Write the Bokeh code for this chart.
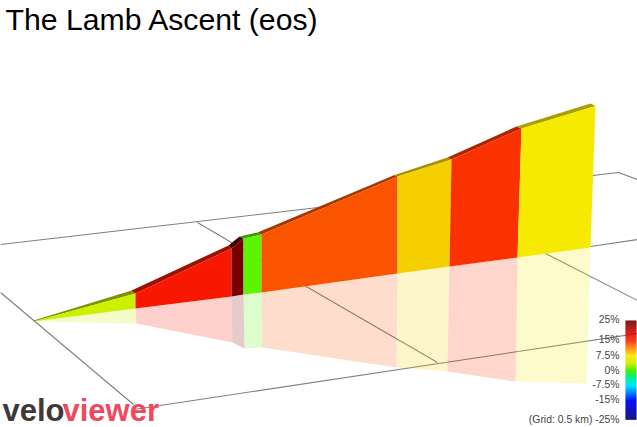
from bokeh.plotting import figure
from bokeh.models import Range1d
from bokeh.core.properties import value
from bokeh.embed import file_html
from bokeh.resources import INLINE
import numpy as np

TITLE = "The Lamb Ascent (eos)"

# Section boundaries (screen space of the 3D view)
edge_top_x = [33, 135, 231, 243, 261, 397, 451, 521, 595]
edge_top_y = [321, 293, 248, 238, 234, 176, 159, 128, 105.5]
edge_base_x = [33, 135, 231, 243, 261, 397, 449, 517, 590]
edge_base_y = [321, 308, 296, 294, 292, 273, 266, 257, 247]
edge_refl_x = [33, 136, 232, 244, 262, 396, 447, 515, 586]
edge_refl_y = [321, 323, 342, 348, 347, 367, 371, 381, 383]
ridge_x = [33, 131, 228, 239, 257, 394, 447, 516, 590]
ridge_y = [320, 290, 245, 236, 232, 174.5, 157, 126, 103]

face_colors = ["#cdf000", "#f81800", "#7a0000", "#5cf400", "#fa5400", "#f6cf00", "#fa3200", "#f6ea00"]
ridge_colors = ["#7f9500", "#a01000", "#400000", "#3a9a00", "#a83800", "#a89000", "#b02400", "#a8a000"]

# Ground grid lines
grid_x = [[0, 618, 637], [197, 304, 437], [0, 133], [133, 637], [590, 637], [545, 637]]
grid_y = [[244, 172, 179], [222, 285, 362], [292, 404], [409, 333], [246, 239], [253, 300]]

# Gradient legend
legend_labels = ["25%", "15%", "7.5%", "0%", "-7.5%", "-15%", "(Grid: 0.5 km) -25%"]
legend_label_y = [319, 339, 354.5, 369.5, 384, 399, 419]
legend_grades = [-25, -20, -15, -11, -7.5, -3.5, 0, 3.5, 7.5, 11, 15, 20, 25]
legend_rgb = ["#00006a", "#0000c0", "#0014ff", "#008cff", "#00e6ff", "#00f08c", "#46f000",
              "#c8f000", "#ffe600", "#ff8c00", "#ff1e00", "#c80000", "#6a0000"]
legend_left, legend_right, legend_top, legend_bottom = 625, 636, 320, 419

W, H = 637, 427
p = figure(width=W, height=H, output_backend="svg", toolbar_location=None,
           x_range=Range1d(0, W), y_range=Range1d(H, 0),
           min_border=0, outline_line_color=None)
p.axis.visible = False
p.grid.visible = False
p.background_fill_color = "white"
p.border_fill_color = "white"

p.multi_line(grid_x, grid_y, line_color="#808080", line_width=1.1)

refl_x, refl_y, face_x, face_y, top_x, top_y = [], [], [], [], [], []
for i in range(len(face_colors)):
    refl_x.append([edge_base_x[i], edge_base_x[i + 1], edge_refl_x[i + 1], edge_refl_x[i]])
    refl_y.append([edge_base_y[i], edge_base_y[i + 1], edge_refl_y[i + 1], edge_refl_y[i]])
    face_x.append([edge_top_x[i], edge_top_x[i + 1], edge_base_x[i + 1], edge_base_x[i]])
    face_y.append([edge_top_y[i], edge_top_y[i + 1], edge_base_y[i + 1], edge_base_y[i]])
    top_x.append([ridge_x[i], ridge_x[i + 1], edge_top_x[i + 1], edge_top_x[i]])
    top_y.append([ridge_y[i], ridge_y[i + 1], edge_top_y[i + 1], edge_top_y[i]])

p.patches(refl_x, refl_y, fill_color=face_colors, fill_alpha=0.2, line_color=None)
p.patches(top_x, top_y, fill_color=ridge_colors, line_color=None)
p.patches(face_x, face_y, fill_color=face_colors, line_color=None)

# Gradient legend, one thin band per half percent
steps = np.arange(25, -25, -0.5)
channels = [[int(c[k:k + 2], 16) for c in legend_rgb] for k in (1, 3, 5)]
band_colors = ["#%02x%02x%02x" % tuple(int(round(np.interp(g, legend_grades, ch))) for ch in channels)
               for g in steps]
span = legend_bottom - legend_top
tops = [legend_top + (25 - g) / 50 * span for g in steps]
bots = [t + span / len(steps) + 0.3 for t in tops]
p.quad(left=[legend_left] * len(tops), right=[legend_right] * len(tops), top=tops, bottom=bots,
       fill_color=band_colors, line_color=None)

p.text(x=[619] * len(legend_labels), y=legend_label_y, text=legend_labels, text_align="right",
       text_baseline="middle", text_font=value("Liberation Sans"), text_font_size="10.4px",
       text_color="#444444")

p.text(x=[5], y=[19], text=[TITLE], text_font=value("Liberation Sans"), text_font_size="30.2px",
       text_color="#000000", text_baseline="middle")

p.text(x=[2], y=[410], text=["velo"], text_font=value("Liberation Sans"), text_font_style="bold",
       text_font_size="31px", text_color="#3f3a3a", text_baseline="middle")
p.text(x=[62], y=[410], text=["viewer"], text_font=value("Liberation Sans"), text_font_style="bold",
       text_font_size="31px", text_color="#f0485f", text_baseline="middle")

open("out.html", "w").write(file_html(p, INLINE))
